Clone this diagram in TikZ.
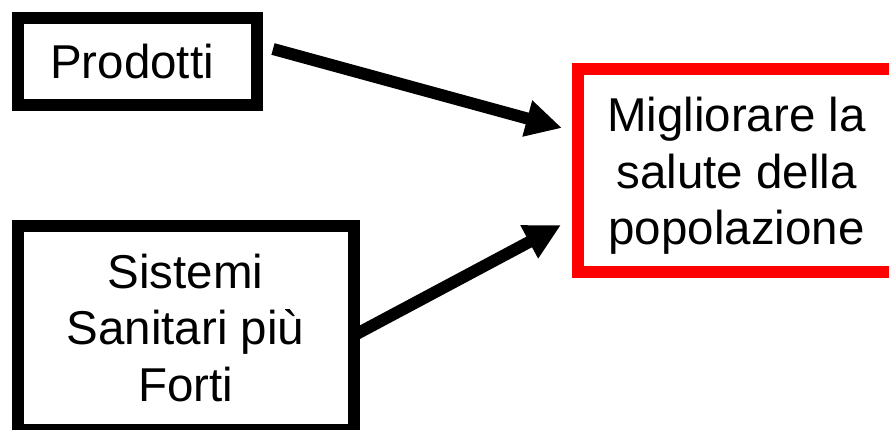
\documentclass[tikz,border=0pt]{standalone}
\usepackage{fontspec}
\setmainfont{Liberation Sans}
\usetikzlibrary{arrows.meta,calc}
\begin{document}
\begin{tikzpicture}[x=1pt,y=-1pt,
  box/.style={draw=black,line width=12pt,fill=white,inner sep=0pt,align=center,
    font=\fontsize{47.5}{56.5}\selectfont},
  goalbox/.style={box,draw=red},
  arr/.style={line width=12pt,-{Triangle[length=36pt,width=35pt]}}]
\fill[white] (0,0) rectangle (889,430);
\useasboundingbox (0,0) rectangle (889,430);
\node[box,minimum width=239pt,minimum height=87.5pt] (prod) at (137.5,61.75) {\hspace*{-11pt}Prodotti};
\node[box,minimum width=336pt,minimum height=204.5pt] (sist) at (185.5,328) {Sistemi\\Sanitari più\\Forti};
\node[goalbox,minimum width=317pt,minimum height=203pt] (goal) at (736.5,170.5) {\rule{0pt}{45pt}Migliorare la\\salute della\\popolazione};
\draw[arr] ([xshift=10pt,yshift=12.75pt]prod.east) -- ([xshift=-10pt,yshift=42.5pt]goal.west);
\draw[arr] ([xshift=-3pt,yshift=-6pt]sist.east) -- ([xshift=-11pt,yshift=-54.5pt]goal.west);
\end{tikzpicture}
\end{document}
